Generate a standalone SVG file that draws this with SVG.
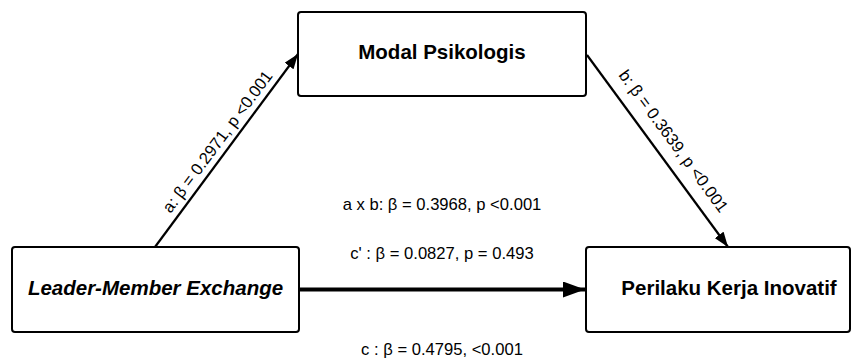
<svg xmlns="http://www.w3.org/2000/svg" width="863" height="362" viewBox="0 0 863 362">
<style>
.box{fill:#fff;stroke:#000;stroke-width:2}
.t{font-family:"Liberation Sans",Arial,sans-serif;font-weight:bold;font-size:20.5px;fill:#000;text-anchor:middle}
.l{font-family:"Liberation Sans",Arial,sans-serif;font-size:16.6px;fill:#000;text-anchor:middle}
.c{fill:none;stroke:#000}
</style>
<defs>
<marker id="ah" markerUnits="userSpaceOnUse" markerWidth="15" markerHeight="11" refX="15" refY="5.5" orient="auto"><path d="M0,0 L15,5.5 L0,11 z" fill="#000"/></marker>
<marker id="ahb" markerUnits="userSpaceOnUse" markerWidth="22" markerHeight="16" refX="22" refY="8" orient="auto"><path d="M0,0 L22,8 L0,16 z" fill="#000"/></marker>
</defs>
<g id="connectors">
<line class="c" x1="155" y1="247" x2="298" y2="54" stroke-width="2.2" marker-end="url(#ah)"/>
<line class="c" x1="587" y1="55" x2="728" y2="247" stroke-width="2.2" marker-end="url(#ah)"/>
<line class="c" x1="300" y1="289.5" x2="585" y2="289.5" stroke-width="4" marker-end="url(#ahb)"/>
<text class="l" x="222" y="145" transform="rotate(-53.3 222 145)">a: β = 0.2971, p &lt;0.001</text>
<text class="l" x="669" y="144.5" transform="rotate(53.7 669 144.5)">b: β = 0.3639, p &lt;0.001</text>
<text class="l" x="442" y="210">a x b: β = 0.3968, p &lt;0.001</text>
<text class="l" x="442" y="259">c' : β = 0.0827, p = 0.493</text>
<text class="l" x="442" y="355">c : β = 0.4795, &lt;0.001</text>
</g>
<g id="node-modal">
<rect class="box" x="298" y="12" width="288" height="84" rx="3"/>
<text class="t" x="442" y="59">Modal Psikologis</text>
</g>
<g id="node-lmx">
<rect class="box" x="12" y="247" width="287" height="85" rx="3"/>
<text class="t" x="155.5" y="295" font-style="italic">Leader-Member Exchange</text>
</g>
<g id="node-pki">
<rect class="box" x="586" y="247" width="264" height="85" rx="3"/>
<text class="t" x="729" y="295">Perilaku Kerja Inovatif</text>
</g>
</svg>
